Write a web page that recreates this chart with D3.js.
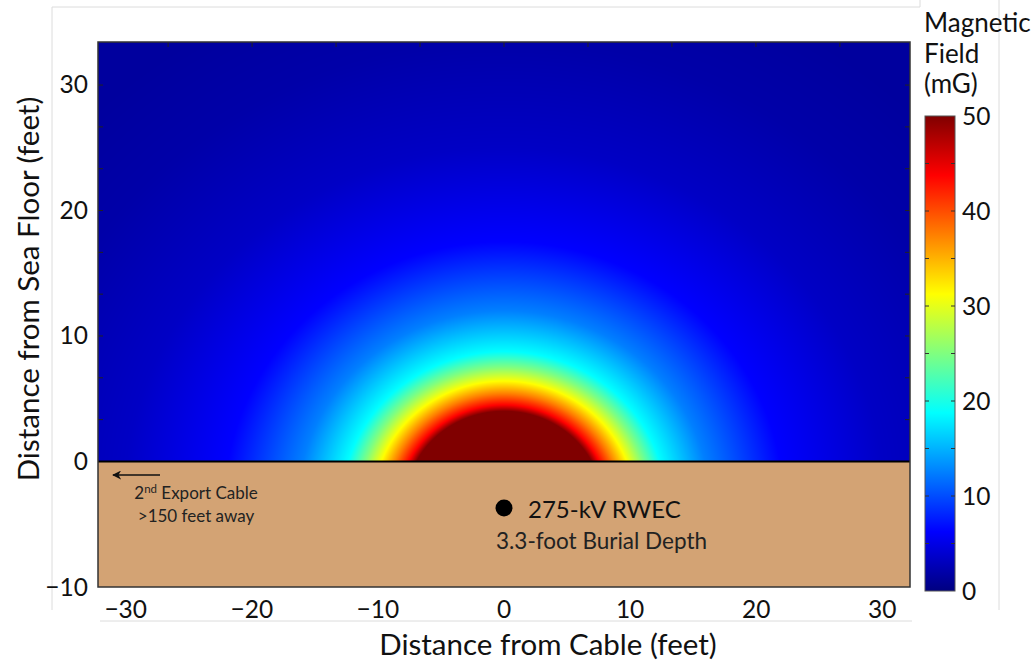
<!DOCTYPE html>
<html>
<head>
<meta charset="utf-8">
<script src="https://cdn.jsdelivr.net/npm/d3@7"></script>
<style>
  body { margin: 0; background: #fff; }
  svg { display: block; font-family: Lato, "Noto Sans", sans-serif; }
</style>
</head>
<body>
<svg id="chart" width="1036" height="661"></svg>
<script>
/// DATA
// field along the vertical line above the cable: feet above sea floor -> mG
var profileHeight = [0, 4.0, 4.5, 5.4, 6.4, 7.5, 8.75, 12, 17.5, 25, 33.4, 40];
var profileField  = [75, 50, 43.75, 37.5, 31.25, 25, 18.75, 12.5, 6.25, 3.4, 2.0, 1.5];
var cableDepth = 3.3;      // centre of the field, feet below floor
var cableMarkDepth = 3.7;  // where the dot is drawn
var sideSpread = 0.88;     // field reaches a bit further sideways than upward

var xTicks = [-30, -20, -10, 0, 10, 20, 30];
var yTicks = [-10, 0, 10, 20, 30];
var cbTicks = [0, 10, 20, 30, 40, 50];
var cbMinor = [5, 15, 25, 35, 45];
var jetStops  = [0, 6.25, 18.75, 31.25, 43.75, 50];
var jetColors = ["#000080", "#0000ff", "#00ffff", "#ffff00", "#ff0000", "#800000"];
var metreTick = 3.33; // small frame ticks (original metre grid), in feet

/// SIZES
var plot = {left: 98, right: 910, top: 42, bottom: 587};
var cbar = {left: 925, right: 955, top: 116, bottom: 591};

var svg = d3.select("#chart");

var x = d3.scaleLinear().domain([-32.2, 32.2]).range([plot.left, plot.right]);
var y = d3.scaleLinear().domain([-10, 33.4]).range([plot.bottom, plot.top]);
var jet = d3.scaleLinear().domain(jetStops).range(jetColors).clamp(true);
var profile = d3.scaleLinear().domain(profileHeight).range(profileField).clamp(true);
var cb = d3.scaleLinear().domain([0, 50]).range([cbar.bottom, cbar.top]);

// faint frame lines left over from the original figure
var faint = [[52, 7, 920, 7], [920, 0, 920, 7], [52, 7, 52, 610], [999, 0, 999, 610], [100, 621, 912, 621]];
svg.selectAll(".faint").data(faint).enter().append("line")
    .attr("x1", function(d){ return d[0]; }).attr("y1", function(d){ return d[1]; })
    .attr("x2", function(d){ return d[2]; }).attr("y2", function(d){ return d[3]; })
    .attr("stroke", "#dcdcdc").attr("stroke-width", 1);

// ---------------- //
// FIELD HEAT MAP   //
// ---------------- //
var W = plot.right - plot.left, H = Math.round(y(0)) - plot.top;
var canvas = document.createElement("canvas");
canvas.width = W; canvas.height = H;
var ctx = canvas.getContext("2d");
var img = ctx.createImageData(W, H);
for (var j = 0; j < H; j++) {
  var yv = y.invert(plot.top + j + 0.5);
  for (var i = 0; i < W; i++) {
    var xv = x.invert(plot.left + i + 0.5);
    var r = Math.sqrt(sideSpread * xv * xv + (yv + cableDepth) * (yv + cableDepth));
    var c = d3.rgb(jet(profile(r - cableDepth)));
    var k = (j * W + i) * 4;
    img.data[k] = c.r; img.data[k + 1] = c.g; img.data[k + 2] = c.b; img.data[k + 3] = 255;
  }
}
ctx.putImageData(img, 0, 0);
svg.append("image")
    .attr("x", plot.left).attr("y", plot.top)
    .attr("width", W).attr("height", H)
    .attr("preserveAspectRatio", "none")
    .attr("href", canvas.toDataURL());

// sediment
svg.append("rect")
    .attr("x", plot.left).attr("y", y(0))
    .attr("width", W).attr("height", y(-10) - y(0))
    .attr("fill", "#d3a374");
svg.append("line")
    .attr("x1", plot.left).attr("x2", plot.right)
    .attr("y1", y(0)).attr("y2", y(0))
    .attr("stroke", "#000").attr("stroke-width", 2);

// small inward frame ticks
var topT = d3.range(-8, 9, 2).map(function(m){ return m * metreTick; })
    .filter(function(v){ return x(v) > plot.left + 2 && x(v) < plot.right - 2; });
var sideT = d3.range(1, 10).map(function(m){ return m * metreTick; });
svg.selectAll(".tt").data(topT).enter().append("line")
    .attr("x1", function(d){ return x(d); }).attr("x2", function(d){ return x(d); })
    .attr("y1", plot.top).attr("y2", plot.top + 5)
    .attr("stroke", "#222").attr("stroke-width", 1);
[plot.left, plot.right].forEach(function(ex, n) {
  svg.selectAll(".st" + n).data(sideT).enter().append("line")
      .attr("x1", ex).attr("x2", n ? ex - 5 : ex + 5)
      .attr("y1", function(d){ return y(d); }).attr("y2", function(d){ return y(d); })
      .attr("stroke", "#222").attr("stroke-width", 1);
});

svg.append("rect")
    .attr("x", plot.left).attr("y", plot.top)
    .attr("width", W).attr("height", plot.bottom - plot.top)
    .attr("fill", "none").attr("stroke", "#333").attr("stroke-width", 1.5);

// ---------------- //
// AXES             //
// ---------------- //
var fmt = d3.format("d");
svg.selectAll(".xl").data(xTicks).enter().append("text")
    .attr("x", function(d){ return x(d); }).attr("y", 618)
    .attr("text-anchor", "middle").attr("font-size", 24.5).attr("fill", "#111")
    .text(function(d){ return d < 0 ? "\u2212" + fmt(-d) : fmt(d); });
svg.selectAll(".yl").data(yTicks).enter().append("text")
    .attr("x", 88).attr("y", function(d){ return y(d) + 8.5; })
    .attr("text-anchor", "end").attr("font-size", 24.5).attr("fill", "#111")
    .text(function(d){ return d < 0 ? "\u2212" + fmt(-d) : fmt(d); });

svg.append("text")
    .attr("x", 548).attr("y", 655)
    .attr("text-anchor", "middle").attr("font-size", 29.5).attr("fill", "#111")
    .text("Distance from Cable (feet)");
svg.append("text")
    .attr("transform", "translate(39," + 289 + ")rotate(-90)")
    .attr("text-anchor", "middle").attr("font-size", 29.5).attr("fill", "#111")
    .text("Distance from Sea Floor (feet)");

// ---------------- //
// ANNOTATIONS      //
// ---------------- //
var defs = svg.append("defs");
defs.append("marker").attr("id", "head")
    .attr("viewBox", "0 0 10 10").attr("refX", 9).attr("refY", 5)
    .attr("markerWidth", 6).attr("markerHeight", 6).attr("orient", "auto")
  .append("path").attr("d", "M0,0L10,5L0,10L3,5Z").attr("fill", "#111");
svg.append("line")
    .attr("x1", 160).attr("x2", 113).attr("y1", 475).attr("y2", 475)
    .attr("stroke", "#111").attr("stroke-width", 1.5).attr("marker-end", "url(#head)");

var t1 = svg.append("text").attr("x", 196).attr("y", 499)
    .attr("text-anchor", "middle").attr("font-size", 17).attr("fill", "#222");
t1.append("tspan").text("2");
t1.append("tspan").attr("font-size", 11.5).attr("dy", -6).text("nd");
t1.append("tspan").attr("dy", 6).text(" Export Cable");
svg.append("text").attr("x", 196).attr("y", 522)
    .attr("text-anchor", "middle").attr("font-size", 17).attr("fill", "#222")
    .text(">150 feet away");

svg.append("circle")
    .attr("cx", x(0)).attr("cy", y(-cableMarkDepth)).attr("r", 8.5)
    .attr("fill", "#000");
svg.append("text").attr("x", 528).attr("y", 518)
    .attr("font-size", 24).attr("fill", "#111").text("275-kV RWEC");
svg.append("text").attr("x", 496).attr("y", 549)
    .attr("font-size", 22.5).attr("fill", "#222").text("3.3-foot Burial Depth");

// ---------------- //
// COLOUR BAR       //
// ---------------- //
var grad = defs.append("linearGradient").attr("id", "jet")
    .attr("x1", 0).attr("y1", 1).attr("x2", 0).attr("y2", 0);
grad.selectAll("stop").data(jetStops).enter().append("stop")
    .attr("offset", function(d){ return d / 50; })
    .attr("stop-color", function(d, i){ return jetColors[i]; });
svg.append("rect")
    .attr("x", cbar.left).attr("y", cbar.top)
    .attr("width", cbar.right - cbar.left).attr("height", cbar.bottom - cbar.top)
    .attr("fill", "url(#jet)").attr("stroke", "#555").attr("stroke-width", 1);
var cbAll = cbTicks.concat(cbMinor).filter(function(d){ return d > 0 && d < 50; });
[cbar.left, cbar.right].forEach(function(ex, n) {
  svg.selectAll(".cbt" + n).data(cbAll).enter().append("line")
      .attr("x1", ex).attr("x2", n ? ex - 4 : ex + 4)
      .attr("y1", function(d){ return cb(d); }).attr("y2", function(d){ return cb(d); })
      .attr("stroke", "#333").attr("stroke-width", 1);
});
svg.selectAll(".cbl").data(cbTicks).enter().append("text")
    .attr("x", 962).attr("y", function(d){ return cb(d) + 8.5; })
    .attr("font-size", 24.5).attr("fill", "#111")
    .text(function(d){ return fmt(d); });
svg.selectAll(".cbh").data(["Magnetic", "Field", "(mG)"]).enter().append("text")
    .attr("x", 924).attr("y", function(d, i){ return 32 + i * 30.5; })
    .attr("font-size", 26).attr("fill", "#111")
    .text(function(d){ return d; });
</script>
</body>
</html>
